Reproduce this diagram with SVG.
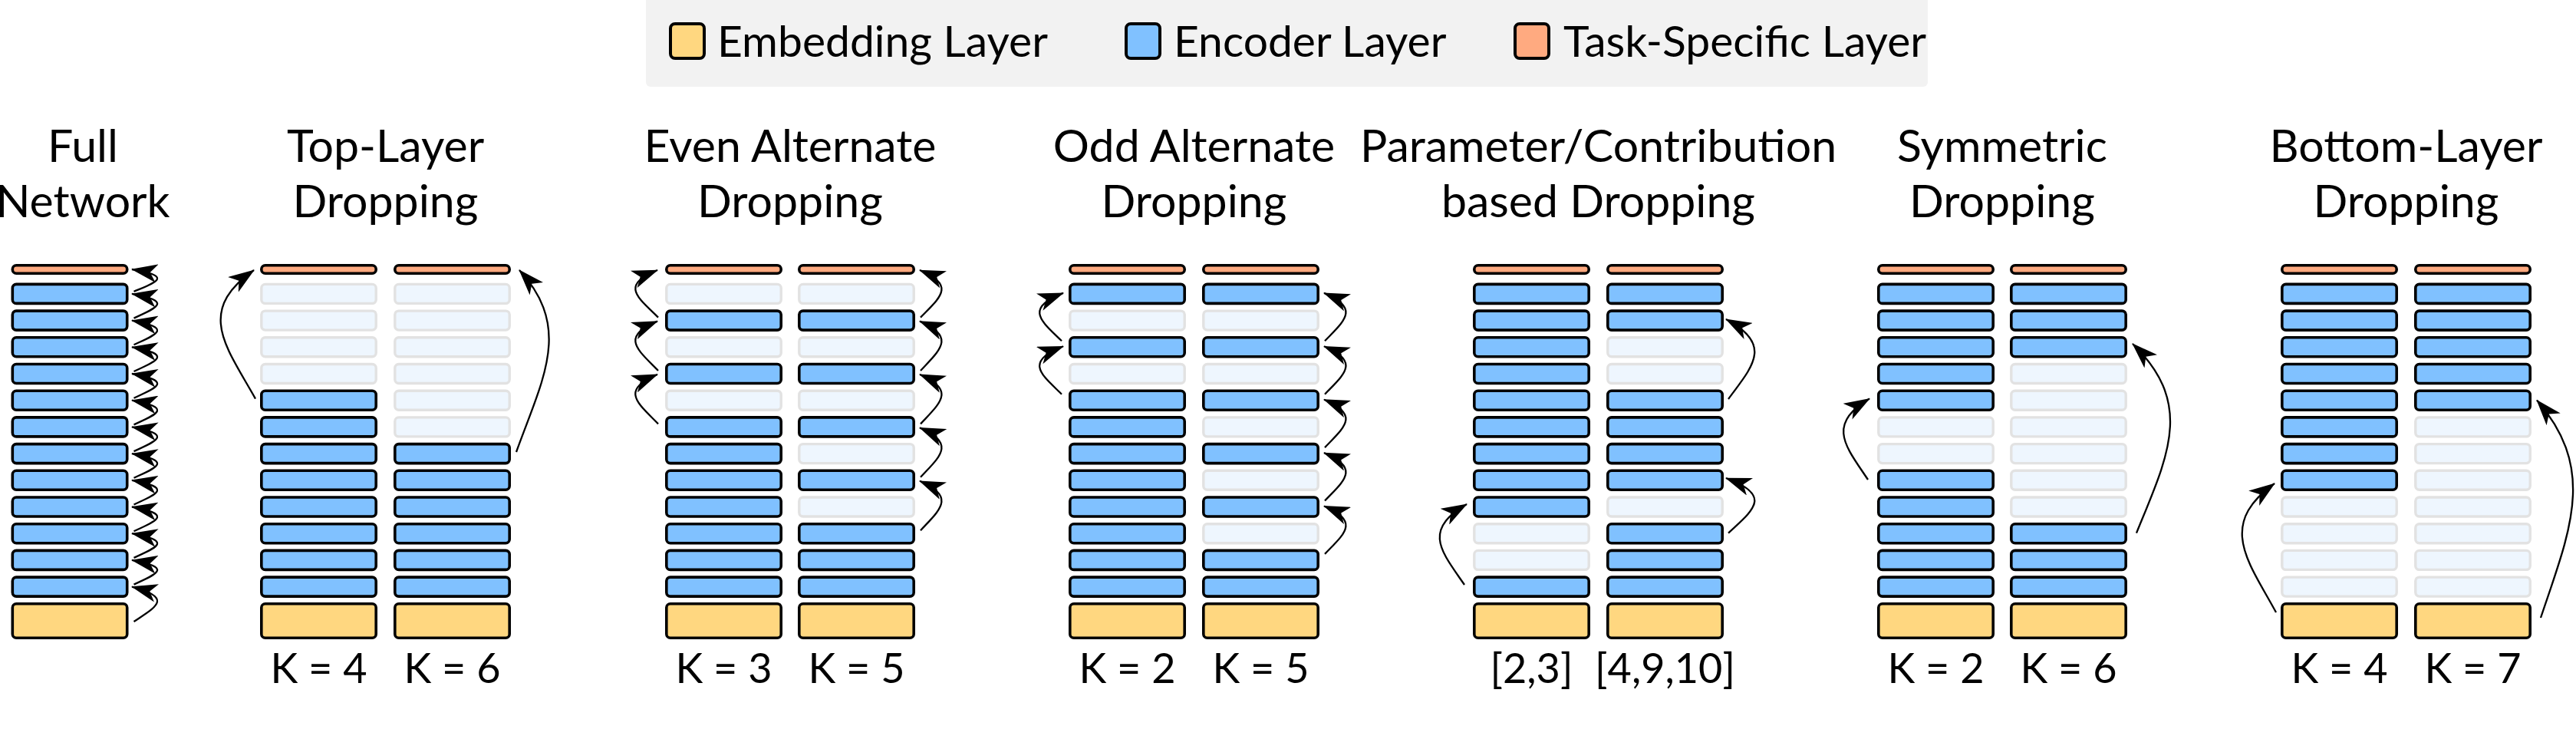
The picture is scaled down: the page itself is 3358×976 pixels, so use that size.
<svg xmlns="http://www.w3.org/2000/svg" width="3358" height="976" viewBox="0 0 3358 976">
<style>
.t{fill:#FFAA80;stroke:#000;stroke-width:3.6}
.e{fill:#80C1FF;stroke:#000;stroke-width:3.6}
.d{fill:#EEF6FE;stroke:#E2E2E2;stroke-width:3.4}
.m{fill:#FFD780;stroke:#000;stroke-width:3.6}
.sw{stroke:#000;stroke-width:4}
text{font-family:Lato,"Open Sans","Liberation Sans",sans-serif;font-weight:400;fill:#000}
.ti{font-size:59px;text-anchor:middle}
.k{font-size:54px;text-anchor:middle}
.lg{font-size:57px}
.c path{fill:none;stroke:#000;stroke-width:2.3;marker-end:url(#ah)}
</style>
<defs>
<marker id="ah" markerUnits="userSpaceOnUse" markerWidth="34" markerHeight="24" viewBox="0 0 34 24" refX="33" refY="12" orient="auto">
<path d="M34,12 L0,0 L9,12 L0,24 Z" fill="#000"/>
</marker>
<rect id="T" class="t" x="1.8" y="345.8" width="149.4" height="10.4" rx="5"/>
<rect id="M" class="m" x="1.8" y="786.8" width="149.4" height="44.4" rx="5"/>
</defs>
<rect width="3358" height="976" fill="#fff"/>

<g id="legend">
<rect x="842" y="-10" width="1671" height="123" rx="6" fill="#F2F2F2"/>
<rect class="sw" x="874" y="31" width="44" height="45" rx="6" fill="#FFD780"/>
<text class="lg" x="935" y="74">Embedding Layer</text>
<rect class="sw" x="1468" y="31" width="44" height="45" rx="6" fill="#80C1FF"/>
<text class="lg" x="1530" y="74">Encoder Layer</text>
<rect class="sw" x="1975" y="31" width="44" height="45" rx="6" fill="#FFAA80"/>
<text class="lg" x="2038" y="74">Task-Specific Layer</text>
</g>

<g id="titles">
<text class="ti" x="108" y="211">Full</text><text class="ti" x="108" y="283">Network</text>
<text class="ti" x="502.5" y="211">Top-Layer</text><text class="ti" x="502.5" y="283">Dropping</text>
<text class="ti" x="1030" y="211">Even Alternate</text><text class="ti" x="1030" y="283">Dropping</text>
<text class="ti" x="1556.5" y="211">Odd Alternate</text><text class="ti" x="1556.5" y="283">Dropping</text>
<text class="ti" x="2083.5" y="211">Parameter/Contribution</text><text class="ti" x="2083.5" y="283">based Dropping</text>
<text class="ti" x="2610" y="211">Symmetric</text><text class="ti" x="2610" y="283">Dropping</text>
<text class="ti" x="3136.5" y="211">Bottom-Layer</text><text class="ti" x="3136.5" y="283">Dropping</text>
</g>

<g id="labels">
<text class="k" x="415.5" y="890">K = 4</text><text class="k" x="589.5" y="890">K = 6</text>
<text class="k" x="943.5" y="890">K = 3</text><text class="k" x="1116.5" y="890">K = 5</text>
<text class="k" x="1469.5" y="890">K = 2</text><text class="k" x="1643.5" y="890">K = 5</text>
<text class="k" x="1996.5" y="890">[2,3]</text><text class="k" x="2170.5" y="890">[4,9,10]</text>
<text class="k" x="2523.5" y="890">K = 2</text><text class="k" x="2696.5" y="890">K = 6</text>
<text class="k" x="3049.5" y="890">K = 4</text><text class="k" x="3223.5" y="890">K = 7</text>
</g>

<g id="col-full" transform="translate(14.5,0)">
<use href="#T"/>
<rect class="e" x="1.8" y="370.4" width="149.4" height="25" rx="5"/>
<rect class="e" x="1.8" y="405.1" width="149.4" height="25" rx="5"/>
<rect class="e" x="1.8" y="439.8" width="149.4" height="25" rx="5"/>
<rect class="e" x="1.8" y="474.5" width="149.4" height="25" rx="5"/>
<rect class="e" x="1.8" y="509.2" width="149.4" height="25" rx="5"/>
<rect class="e" x="1.8" y="543.9" width="149.4" height="25" rx="5"/>
<rect class="e" x="1.8" y="578.6" width="149.4" height="25" rx="5"/>
<rect class="e" x="1.8" y="613.3" width="149.4" height="25" rx="5"/>
<rect class="e" x="1.8" y="648.0" width="149.4" height="25" rx="5"/>
<rect class="e" x="1.8" y="682.7" width="149.4" height="25" rx="5"/>
<rect class="e" x="1.8" y="717.4" width="149.4" height="25" rx="5"/>
<rect class="e" x="1.8" y="752.1" width="149.4" height="25" rx="5"/>
<use href="#M"/>
</g>

<g id="col-top-k4" transform="translate(339,0)">
<use href="#T"/>
<rect class="d" x="1.8" y="370.4" width="149.4" height="25" rx="5"/>
<rect class="d" x="1.8" y="405.1" width="149.4" height="25" rx="5"/>
<rect class="d" x="1.8" y="439.8" width="149.4" height="25" rx="5"/>
<rect class="d" x="1.8" y="474.5" width="149.4" height="25" rx="5"/>
<rect class="e" x="1.8" y="509.2" width="149.4" height="25" rx="5"/>
<rect class="e" x="1.8" y="543.9" width="149.4" height="25" rx="5"/>
<rect class="e" x="1.8" y="578.6" width="149.4" height="25" rx="5"/>
<rect class="e" x="1.8" y="613.3" width="149.4" height="25" rx="5"/>
<rect class="e" x="1.8" y="648.0" width="149.4" height="25" rx="5"/>
<rect class="e" x="1.8" y="682.7" width="149.4" height="25" rx="5"/>
<rect class="e" x="1.8" y="717.4" width="149.4" height="25" rx="5"/>
<rect class="e" x="1.8" y="752.1" width="149.4" height="25" rx="5"/>
<use href="#M"/>
</g>

<g id="col-top-k6" transform="translate(513,0)">
<use href="#T"/>
<rect class="d" x="1.8" y="370.4" width="149.4" height="25" rx="5"/>
<rect class="d" x="1.8" y="405.1" width="149.4" height="25" rx="5"/>
<rect class="d" x="1.8" y="439.8" width="149.4" height="25" rx="5"/>
<rect class="d" x="1.8" y="474.5" width="149.4" height="25" rx="5"/>
<rect class="d" x="1.8" y="509.2" width="149.4" height="25" rx="5"/>
<rect class="d" x="1.8" y="543.9" width="149.4" height="25" rx="5"/>
<rect class="e" x="1.8" y="578.6" width="149.4" height="25" rx="5"/>
<rect class="e" x="1.8" y="613.3" width="149.4" height="25" rx="5"/>
<rect class="e" x="1.8" y="648.0" width="149.4" height="25" rx="5"/>
<rect class="e" x="1.8" y="682.7" width="149.4" height="25" rx="5"/>
<rect class="e" x="1.8" y="717.4" width="149.4" height="25" rx="5"/>
<rect class="e" x="1.8" y="752.1" width="149.4" height="25" rx="5"/>
<use href="#M"/>
</g>

<g id="col-even-k3" transform="translate(867,0)">
<use href="#T"/>
<rect class="d" x="1.8" y="370.4" width="149.4" height="25" rx="5"/>
<rect class="e" x="1.8" y="405.1" width="149.4" height="25" rx="5"/>
<rect class="d" x="1.8" y="439.8" width="149.4" height="25" rx="5"/>
<rect class="e" x="1.8" y="474.5" width="149.4" height="25" rx="5"/>
<rect class="d" x="1.8" y="509.2" width="149.4" height="25" rx="5"/>
<rect class="e" x="1.8" y="543.9" width="149.4" height="25" rx="5"/>
<rect class="e" x="1.8" y="578.6" width="149.4" height="25" rx="5"/>
<rect class="e" x="1.8" y="613.3" width="149.4" height="25" rx="5"/>
<rect class="e" x="1.8" y="648.0" width="149.4" height="25" rx="5"/>
<rect class="e" x="1.8" y="682.7" width="149.4" height="25" rx="5"/>
<rect class="e" x="1.8" y="717.4" width="149.4" height="25" rx="5"/>
<rect class="e" x="1.8" y="752.1" width="149.4" height="25" rx="5"/>
<use href="#M"/>
</g>

<g id="col-even-k5" transform="translate(1040,0)">
<use href="#T"/>
<rect class="d" x="1.8" y="370.4" width="149.4" height="25" rx="5"/>
<rect class="e" x="1.8" y="405.1" width="149.4" height="25" rx="5"/>
<rect class="d" x="1.8" y="439.8" width="149.4" height="25" rx="5"/>
<rect class="e" x="1.8" y="474.5" width="149.4" height="25" rx="5"/>
<rect class="d" x="1.8" y="509.2" width="149.4" height="25" rx="5"/>
<rect class="e" x="1.8" y="543.9" width="149.4" height="25" rx="5"/>
<rect class="d" x="1.8" y="578.6" width="149.4" height="25" rx="5"/>
<rect class="e" x="1.8" y="613.3" width="149.4" height="25" rx="5"/>
<rect class="d" x="1.8" y="648.0" width="149.4" height="25" rx="5"/>
<rect class="e" x="1.8" y="682.7" width="149.4" height="25" rx="5"/>
<rect class="e" x="1.8" y="717.4" width="149.4" height="25" rx="5"/>
<rect class="e" x="1.8" y="752.1" width="149.4" height="25" rx="5"/>
<use href="#M"/>
</g>

<g id="col-odd-k2" transform="translate(1393,0)">
<use href="#T"/>
<rect class="e" x="1.8" y="370.4" width="149.4" height="25" rx="5"/>
<rect class="d" x="1.8" y="405.1" width="149.4" height="25" rx="5"/>
<rect class="e" x="1.8" y="439.8" width="149.4" height="25" rx="5"/>
<rect class="d" x="1.8" y="474.5" width="149.4" height="25" rx="5"/>
<rect class="e" x="1.8" y="509.2" width="149.4" height="25" rx="5"/>
<rect class="e" x="1.8" y="543.9" width="149.4" height="25" rx="5"/>
<rect class="e" x="1.8" y="578.6" width="149.4" height="25" rx="5"/>
<rect class="e" x="1.8" y="613.3" width="149.4" height="25" rx="5"/>
<rect class="e" x="1.8" y="648.0" width="149.4" height="25" rx="5"/>
<rect class="e" x="1.8" y="682.7" width="149.4" height="25" rx="5"/>
<rect class="e" x="1.8" y="717.4" width="149.4" height="25" rx="5"/>
<rect class="e" x="1.8" y="752.1" width="149.4" height="25" rx="5"/>
<use href="#M"/>
</g>

<g id="col-odd-k5" transform="translate(1567,0)">
<use href="#T"/>
<rect class="e" x="1.8" y="370.4" width="149.4" height="25" rx="5"/>
<rect class="d" x="1.8" y="405.1" width="149.4" height="25" rx="5"/>
<rect class="e" x="1.8" y="439.8" width="149.4" height="25" rx="5"/>
<rect class="d" x="1.8" y="474.5" width="149.4" height="25" rx="5"/>
<rect class="e" x="1.8" y="509.2" width="149.4" height="25" rx="5"/>
<rect class="d" x="1.8" y="543.9" width="149.4" height="25" rx="5"/>
<rect class="e" x="1.8" y="578.6" width="149.4" height="25" rx="5"/>
<rect class="d" x="1.8" y="613.3" width="149.4" height="25" rx="5"/>
<rect class="e" x="1.8" y="648.0" width="149.4" height="25" rx="5"/>
<rect class="d" x="1.8" y="682.7" width="149.4" height="25" rx="5"/>
<rect class="e" x="1.8" y="717.4" width="149.4" height="25" rx="5"/>
<rect class="e" x="1.8" y="752.1" width="149.4" height="25" rx="5"/>
<use href="#M"/>
</g>

<g id="col-param-a" transform="translate(1920,0)">
<use href="#T"/>
<rect class="e" x="1.8" y="370.4" width="149.4" height="25" rx="5"/>
<rect class="e" x="1.8" y="405.1" width="149.4" height="25" rx="5"/>
<rect class="e" x="1.8" y="439.8" width="149.4" height="25" rx="5"/>
<rect class="e" x="1.8" y="474.5" width="149.4" height="25" rx="5"/>
<rect class="e" x="1.8" y="509.2" width="149.4" height="25" rx="5"/>
<rect class="e" x="1.8" y="543.9" width="149.4" height="25" rx="5"/>
<rect class="e" x="1.8" y="578.6" width="149.4" height="25" rx="5"/>
<rect class="e" x="1.8" y="613.3" width="149.4" height="25" rx="5"/>
<rect class="e" x="1.8" y="648.0" width="149.4" height="25" rx="5"/>
<rect class="d" x="1.8" y="682.7" width="149.4" height="25" rx="5"/>
<rect class="d" x="1.8" y="717.4" width="149.4" height="25" rx="5"/>
<rect class="e" x="1.8" y="752.1" width="149.4" height="25" rx="5"/>
<use href="#M"/>
</g>

<g id="col-param-b" transform="translate(2094,0)">
<use href="#T"/>
<rect class="e" x="1.8" y="370.4" width="149.4" height="25" rx="5"/>
<rect class="e" x="1.8" y="405.1" width="149.4" height="25" rx="5"/>
<rect class="d" x="1.8" y="439.8" width="149.4" height="25" rx="5"/>
<rect class="d" x="1.8" y="474.5" width="149.4" height="25" rx="5"/>
<rect class="e" x="1.8" y="509.2" width="149.4" height="25" rx="5"/>
<rect class="e" x="1.8" y="543.9" width="149.4" height="25" rx="5"/>
<rect class="e" x="1.8" y="578.6" width="149.4" height="25" rx="5"/>
<rect class="e" x="1.8" y="613.3" width="149.4" height="25" rx="5"/>
<rect class="d" x="1.8" y="648.0" width="149.4" height="25" rx="5"/>
<rect class="e" x="1.8" y="682.7" width="149.4" height="25" rx="5"/>
<rect class="e" x="1.8" y="717.4" width="149.4" height="25" rx="5"/>
<rect class="e" x="1.8" y="752.1" width="149.4" height="25" rx="5"/>
<use href="#M"/>
</g>

<g id="col-sym-k2" transform="translate(2447,0)">
<use href="#T"/>
<rect class="e" x="1.8" y="370.4" width="149.4" height="25" rx="5"/>
<rect class="e" x="1.8" y="405.1" width="149.4" height="25" rx="5"/>
<rect class="e" x="1.8" y="439.8" width="149.4" height="25" rx="5"/>
<rect class="e" x="1.8" y="474.5" width="149.4" height="25" rx="5"/>
<rect class="e" x="1.8" y="509.2" width="149.4" height="25" rx="5"/>
<rect class="d" x="1.8" y="543.9" width="149.4" height="25" rx="5"/>
<rect class="d" x="1.8" y="578.6" width="149.4" height="25" rx="5"/>
<rect class="e" x="1.8" y="613.3" width="149.4" height="25" rx="5"/>
<rect class="e" x="1.8" y="648.0" width="149.4" height="25" rx="5"/>
<rect class="e" x="1.8" y="682.7" width="149.4" height="25" rx="5"/>
<rect class="e" x="1.8" y="717.4" width="149.4" height="25" rx="5"/>
<rect class="e" x="1.8" y="752.1" width="149.4" height="25" rx="5"/>
<use href="#M"/>
</g>

<g id="col-sym-k6" transform="translate(2620,0)">
<use href="#T"/>
<rect class="e" x="1.8" y="370.4" width="149.4" height="25" rx="5"/>
<rect class="e" x="1.8" y="405.1" width="149.4" height="25" rx="5"/>
<rect class="e" x="1.8" y="439.8" width="149.4" height="25" rx="5"/>
<rect class="d" x="1.8" y="474.5" width="149.4" height="25" rx="5"/>
<rect class="d" x="1.8" y="509.2" width="149.4" height="25" rx="5"/>
<rect class="d" x="1.8" y="543.9" width="149.4" height="25" rx="5"/>
<rect class="d" x="1.8" y="578.6" width="149.4" height="25" rx="5"/>
<rect class="d" x="1.8" y="613.3" width="149.4" height="25" rx="5"/>
<rect class="d" x="1.8" y="648.0" width="149.4" height="25" rx="5"/>
<rect class="e" x="1.8" y="682.7" width="149.4" height="25" rx="5"/>
<rect class="e" x="1.8" y="717.4" width="149.4" height="25" rx="5"/>
<rect class="e" x="1.8" y="752.1" width="149.4" height="25" rx="5"/>
<use href="#M"/>
</g>

<g id="col-bottom-k4" transform="translate(2973,0)">
<use href="#T"/>
<rect class="e" x="1.8" y="370.4" width="149.4" height="25" rx="5"/>
<rect class="e" x="1.8" y="405.1" width="149.4" height="25" rx="5"/>
<rect class="e" x="1.8" y="439.8" width="149.4" height="25" rx="5"/>
<rect class="e" x="1.8" y="474.5" width="149.4" height="25" rx="5"/>
<rect class="e" x="1.8" y="509.2" width="149.4" height="25" rx="5"/>
<rect class="e" x="1.8" y="543.9" width="149.4" height="25" rx="5"/>
<rect class="e" x="1.8" y="578.6" width="149.4" height="25" rx="5"/>
<rect class="e" x="1.8" y="613.3" width="149.4" height="25" rx="5"/>
<rect class="d" x="1.8" y="648.0" width="149.4" height="25" rx="5"/>
<rect class="d" x="1.8" y="682.7" width="149.4" height="25" rx="5"/>
<rect class="d" x="1.8" y="717.4" width="149.4" height="25" rx="5"/>
<rect class="d" x="1.8" y="752.1" width="149.4" height="25" rx="5"/>
<use href="#M"/>
</g>

<g id="col-bottom-k7" transform="translate(3147,0)">
<use href="#T"/>
<rect class="e" x="1.8" y="370.4" width="149.4" height="25" rx="5"/>
<rect class="e" x="1.8" y="405.1" width="149.4" height="25" rx="5"/>
<rect class="e" x="1.8" y="439.8" width="149.4" height="25" rx="5"/>
<rect class="e" x="1.8" y="474.5" width="149.4" height="25" rx="5"/>
<rect class="e" x="1.8" y="509.2" width="149.4" height="25" rx="5"/>
<rect class="d" x="1.8" y="543.9" width="149.4" height="25" rx="5"/>
<rect class="d" x="1.8" y="578.6" width="149.4" height="25" rx="5"/>
<rect class="d" x="1.8" y="613.3" width="149.4" height="25" rx="5"/>
<rect class="d" x="1.8" y="648.0" width="149.4" height="25" rx="5"/>
<rect class="d" x="1.8" y="682.7" width="149.4" height="25" rx="5"/>
<rect class="d" x="1.8" y="717.4" width="149.4" height="25" rx="5"/>
<rect class="d" x="1.8" y="752.1" width="149.4" height="25" rx="5"/>
<use href="#M"/>
</g>

<g id="connectors" class="c">
<path d="M174.5,810 C201.7,791.8 228,779.1 172,764.6"/>
<path d="M174.5,761.6 C201.7,748.9 228,740 172,729.9"/>
<path d="M174.5,726.9 C201.7,714.2 228,705.3 172,695.2"/>
<path d="M174.5,692.2 C201.7,679.5 228,670.6 172,660.5"/>
<path d="M174.5,657.5 C201.7,644.8 228,635.9 172,625.8"/>
<path d="M174.5,622.8 C201.7,610.1 228,601.2 172,591.1"/>
<path d="M174.5,588.1 C201.7,575.4 228,566.5 172,556.4"/>
<path d="M174.5,553.4 C201.7,540.7 228,531.8 172,521.7"/>
<path d="M174.5,518.7 C201.7,506 228,497.1 172,487"/>
<path d="M174.5,484 C201.7,471.3 228,462.4 172,452.3"/>
<path d="M174.5,449.3 C201.7,436.6 228,427.7 172,417.6"/>
<path d="M174.5,414.6 C201.7,401.9 228,393 172,382.9"/>
<path d="M174.5,379.9 C201.7,368.3 228,360.2 172,351"/>

<path d="M333,519.6 C295.6,452.6 254,405.6 331,352"/>
<path d="M673,589 C707,494.2 747,427.8 677,352"/>

<path d="M858,552.4 C833.3,526.6 806.2,508.6 857,488"/>
<path d="M858,483 C833.3,457.2 806.2,439.2 857,418.6"/>
<path d="M858,413.6 C833.3,389 806.2,371.7 857,352"/>
<path d="M1200,691.2 C1223.8,665.4 1248,647.4 1199,626.8"/>
<path d="M1200,621.8 C1223.8,596 1248,578 1199,557.4"/>
<path d="M1200,552.4 C1223.8,526.6 1248,508.6 1199,488"/>
<path d="M1200,483 C1223.8,457.2 1248,439.2 1199,418.6"/>
<path d="M1200,413.6 C1223.8,389 1248,371.7 1199,352"/>

<path d="M1384,513.7 C1358.5,488.7 1333.5,471.3 1386,451.3"/>
<path d="M1384,444.3 C1358.5,419.3 1333.5,401.9 1386,381.9"/>
<path d="M1727,721.9 C1750.8,696.9 1775,679.5 1726,659.5"/>
<path d="M1727,652.5 C1750.8,627.5 1775,610.1 1726,590.1"/>
<path d="M1727,583.1 C1750.8,558.1 1775,540.7 1726,520.7"/>
<path d="M1727,513.7 C1750.8,488.7 1775,471.3 1726,451.3"/>
<path d="M1727,444.3 C1750.8,419.3 1775,401.9 1726,381.9"/>

<path d="M1909,762 C1880.1,720 1852.5,690.6 1912,657"/>
<path d="M2253,694.6 C2283.6,666 2313,645.9 2250,623"/>
<path d="M2253,520 C2283.6,478.4 2313,449.3 2250,416"/>

<path d="M2435,625 C2407,582.8 2379.2,553.3 2437,519.6"/>
<path d="M2785,694.6 C2825,596 2862,526.9 2780,448"/>

<path d="M2967,798 C2930.4,730.8 2890,683.8 2965,630"/>
<path d="M3312,805 C3350,691.6 3386,612.2 3307,521.4"/>
</g>
</svg>
